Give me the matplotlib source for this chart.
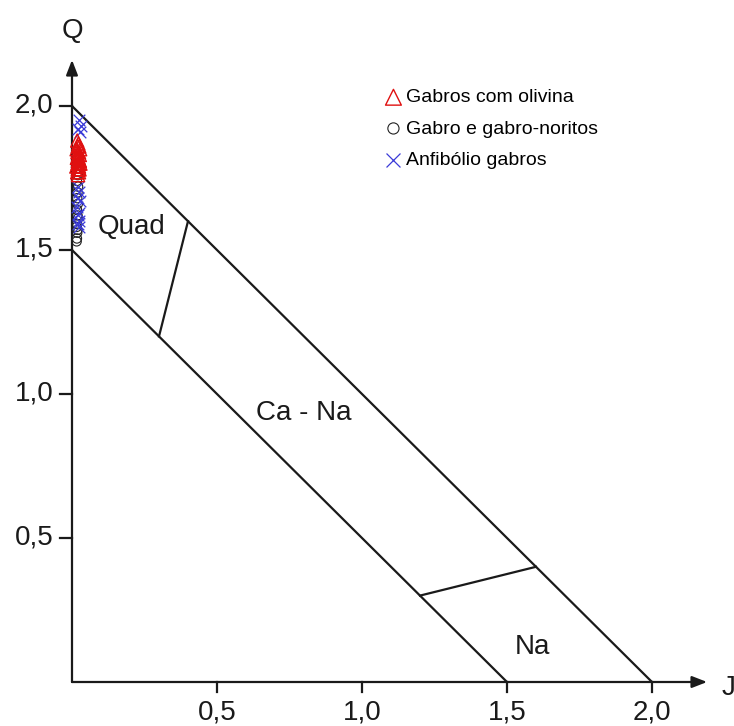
import matplotlib.pyplot as plt
import numpy as np

plt.rcParams['font.family'] = ['Liberation Sans', 'DejaVu Sans']

# amostras (J, Q)
olivina_J = [0.018, 0.022, 0.025, 0.020, 0.028, 0.016, 0.024, 0.019, 0.027, 0.021,
             0.023, 0.018, 0.026, 0.020, 0.022, 0.025, 0.019, 0.024, 0.021, 0.023,
             0.020, 0.022, 0.026, 0.018, 0.024, 0.021, 0.017, 0.027, 0.015, 0.029]
olivina_Q = [1.88, 1.87, 1.86, 1.86, 1.85, 1.85, 1.84, 1.84, 1.83, 1.83,
             1.82, 1.82, 1.81, 1.81, 1.80, 1.80, 1.80, 1.79, 1.79, 1.79,
             1.78, 1.78, 1.78, 1.77, 1.77, 1.76, 1.82, 1.81, 1.79, 1.80]

noritos_J = [0.018, 0.020, 0.017, 0.021, 0.019, 0.018, 0.020, 0.017, 0.019,
             0.021, 0.018, 0.016, 0.019, 0.018, 0.017, 0.016]
noritos_Q = [1.80, 1.76, 1.74, 1.72, 1.70, 1.68, 1.66, 1.64, 1.62,
             1.61, 1.59, 1.58, 1.57, 1.56, 1.54, 1.53]

anfibolio_J = [0.025, 0.030, 0.022, 0.027, 0.020, 0.024, 0.022, 0.026,
               0.018, 0.024, 0.021, 0.025, 0.019, 0.023]
anfibolio_Q = [1.95, 1.93, 1.92, 1.91, 1.72, 1.70, 1.68, 1.67,
               1.65, 1.63, 1.62, 1.60, 1.59, 1.58]

fig = plt.figure(figsize=(7.34, 7.26), dpi=100)
ax = fig.add_axes([72/734, 44/726, 660/734, 670/726])
ax.set_xlim(0, 660/290)
ax.set_ylim(0, 670/288)
ax.axis('off')

lw = 1.6
cor = '#1a1a1a'
# campos do diagrama
ax.plot([0, 2.0], [2.0, 0], color=cor, lw=lw)
ax.plot([0, 1.5], [1.5, 0], color=cor, lw=lw)
ax.plot([0.3, 0.4], [1.2, 1.6], color=cor, lw=lw)
ax.plot([1.2, 1.6], [0.3, 0.4], color=cor, lw=lw)

# eixos com setas
seta = dict(arrowstyle='-|>,head_length=0.9,head_width=0.35', color=cor, lw=lw,
            shrinkA=0, shrinkB=0)
ax.annotate('', xy=(2.19, 0), xytext=(0, 0), arrowprops=seta)
ax.annotate('', xy=(0, 2.16), xytext=(0, 0), arrowprops=seta)

for v in [0.5, 1.0, 1.5, 2.0]:
    lab = f'{v:.1f}'.replace('.', ',')
    ax.plot([v, v], [0, -0.035], color=cor, lw=lw, clip_on=False)
    ax.text(v, -0.105, lab, ha='center', va='center', fontsize=20, color=cor)
    ax.plot([0, -0.04], [v, v], color=cor, lw=lw, clip_on=False)
    ax.text(-0.065, v, lab, ha='right', va='center', fontsize=20, color=cor)

ax.text(0, 2.26, 'Q', ha='center', va='center', fontsize=20, color=cor)
ax.text(2.24, -0.02, 'J', ha='left', va='center', fontsize=20, color=cor, clip_on=False)

ax.text(0.09, 1.58, 'Quad', ha='left', va='center', fontsize=20, color=cor)
ax.text(0.80, 0.934, 'Ca - Na', ha='center', va='center', fontsize=20, color=cor)
ax.text(1.586, 0.12, 'Na', ha='center', va='center', fontsize=20, color=cor)

ax.scatter(noritos_J, noritos_Q, marker='o', s=45, facecolors='none', edgecolors='#222222',
           linewidths=0.8, label='Gabro e gabro-noritos', clip_on=False, zorder=3)
ax.scatter(anfibolio_J, anfibolio_Q, marker='x', s=70, color='#3a3ad8',
           linewidths=0.9, label='Anfibólio gabros', clip_on=False, zorder=4)
ax.scatter(olivina_J, olivina_Q, marker='^', s=90, facecolors='none', edgecolors='#e01010',
           linewidths=1.0, label='Gabros com olivina', clip_on=False, zorder=5)

h, l = ax.get_legend_handles_labels()
order = [2, 0, 1]
ax.legend([h[i] for i in order], [l[i] for i in order], loc='upper left',
          bbox_to_anchor=(374/734, 1 - 79/726), bbox_transform=fig.transFigure,
          frameon=False, fontsize=14, handletextpad=0.15, labelspacing=0.7,
          markerscale=1.2, borderpad=0, handlelength=1.0)

fig.savefig('out.png', dpi=100)
